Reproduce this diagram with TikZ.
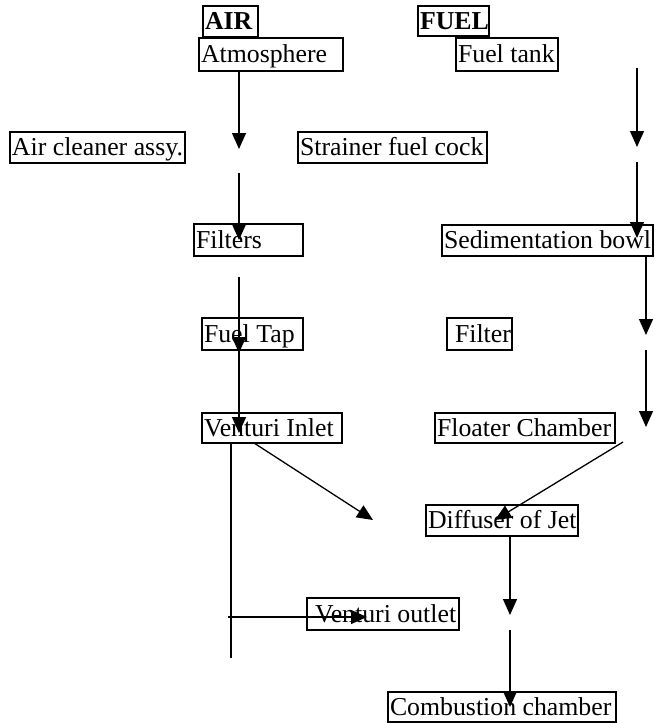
\documentclass[tikz,border=0pt]{standalone}
\usepackage{fontspec}
\setmainfont{Liberation Serif}
\usetikzlibrary{arrows.meta}
% left-aligned label of fixed width inside a stage box
\newcommand{\stagetext}[2]{\makebox[#1][l]{#2}}
\begin{document}
\begin{tikzpicture}[x=1pt,y=-1pt,
  box/.style={draw, line width=1.4pt, anchor=north west, inner xsep=2pt,
    inner ysep=0pt, outer sep=0pt,
    font=\fontsize{25.8}{30}\selectfont, text height=19pt, text depth=3pt},
  size/.style 2 args={minimum width=#1, minimum height=#2},
  flow/.style={line width=1.3pt, -{Triangle[width=14pt,length=16pt]}},
  plain/.style={line width=1.3pt}]
\useasboundingbox (0,0) rectangle (654,723);

% headings
\node[box, size={55pt}{31pt}, font=\fontsize{25.8}{30}\selectfont\bfseries] (air) at (203,6) {\stagetext{51pt}{AIR}};
\node[box, size={71pt}{30pt}, font=\fontsize{25.8}{30}\selectfont\bfseries] (fuel) at (418,6) {\stagetext{67pt}{FUEL}};

% stages
\node[box, size={144pt}{33pt}] (atm) at (199,38) {\stagetext{140pt}{Atmosphere}};
\node[box, size={102pt}{33pt}] (tank) at (456,38) {\stagetext{98pt}{Fuel tank}};
\node[box, size={175pt}{31pt}] (cleaner) at (10,132) {\stagetext{171pt}{Air cleaner assy.}};
\node[box, size={189pt}{31pt}] (strainer) at (298,132) {\stagetext{185pt}{Strainer fuel cock}};
\node[box, size={109pt}{32pt}] (filters) at (194,224) {\stagetext{105pt}{Filters}};
\node[box, size={211pt}{31pt}] (bowl) at (442,225) {\stagetext{207pt}{Sedimentation bowl}};
\node[box, size={101pt}{32pt}] (tap) at (202,318) {\stagetext{97pt}{Fuel Tap}};
\node[box, size={65pt}{32pt}] (filter) at (447,318) {\stagetext{61pt}{\hspace*{6pt}Filter}};
\node[box, size={140pt}{30pt}] (vin) at (202,413) {\stagetext{136pt}{Venturi Inlet}};
\node[box, size={180pt}{30pt}] (floater) at (435,413) {\stagetext{176pt}{Floater Chamber}};
\node[box, size={152pt}{31pt}] (jet) at (426,505) {\stagetext{148pt}{Diffuser of Jet}};
\node[box, size={152pt}{32pt}] (vout) at (307,598) {\stagetext{148pt}{\hspace*{6pt}Venturi outlet}};
\node[box, size={228pt}{30pt}] (comb) at (388,692) {\stagetext{224pt}{Combustion chamber}};

% connector end points
\coordinate (a0) at (239,71);
\coordinate (a1) at (239,149);
\coordinate (a2) at (239,173);
\coordinate (a3) at (239,240);
\coordinate (a4) at (239,277);
\coordinate (a5) at (239,353);
\coordinate (a6) at (239,350);
\coordinate (a7) at (239,433);
\coordinate (f0) at (637,68);
\coordinate (f1) at (637,147);
\coordinate (f2) at (637,162);
\coordinate (f3) at (637,238);
\coordinate (f4) at (646,256);
\coordinate (f5) at (646,335);
\coordinate (f6) at (646,350);
\coordinate (f7) at (646,427);
\coordinate (d0) at (254,443);
\coordinate (d1) at (373,520);
\coordinate (d2) at (623,442);
\coordinate (d3) at (495,520);
\coordinate (v0) at (231,443);
\coordinate (v1) at (231,658);
\coordinate (h0) at (228,617);
\coordinate (h1) at (367,617);
\coordinate (j0) at (510,536);
\coordinate (j1) at (510,615);
\coordinate (j2) at (510,630);
\coordinate (j3) at (510,707);

% air side
\draw[flow] (a0) -- (a1);
\draw[flow] (a2) -- (a3);
\draw[flow] (a4) -- (a5);
\draw[flow] (a6) -- (a7);
\draw[flow] (d0) -- (d1);
\draw[plain] (v0) -- (v1);
\draw[flow] (h0) -- (h1);

% fuel side
\draw[flow] (f0) -- (f1);
\draw[flow] (f2) -- (f3);
\draw[flow] (f4) -- (f5);
\draw[flow] (f6) -- (f7);
\draw[flow] (d2) -- (d3);
\draw[flow] (j0) -- (j1);
\draw[flow] (j2) -- (j3);
\end{tikzpicture}
\end{document}
